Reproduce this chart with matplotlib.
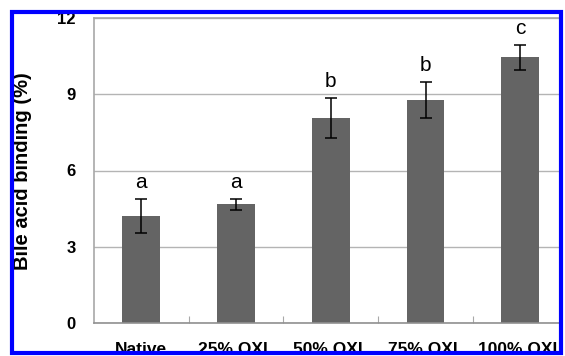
import matplotlib
matplotlib.use("Agg")
import matplotlib.pyplot as plt
from matplotlib.patches import Rectangle

# values
categories = ["Native", "25% OXL", "50% OXL", "75% OXL", "100% OXL"]
binding = [4.22, 4.67, 8.08, 8.77, 10.46]
errors = [0.67, 0.22, 0.79, 0.71, 0.49]
letters = ["a", "a", "b", "b", "c"]
yticks = [0, 3, 6, 9, 12]

plt.rcParams["font.family"] = ["Liberation Sans", "DejaVu Sans"]

fig = plt.figure(figsize=(5.65, 3.56), dpi=100)
ax = fig.add_axes([94 / 565, 33 / 356, 467 / 565, 305 / 356])

x = list(range(len(categories)))
ax.bar(x, binding, width=0.4, color="#646464", zorder=2)
ax.errorbar(x, binding, yerr=errors, fmt="none", ecolor="black",
            elinewidth=1.1, capsize=4.3, capthick=1.1, zorder=3)
for xi, v, e, lab in zip(x, binding, errors, letters):
    ax.text(xi, v + e + 0.42, lab, ha="center", va="baseline", fontsize=15)

ax.set_xlim(-0.5, 4.43)
ax.set_ylim(0, 12)
ax.set_yticks(yticks)
ax.set_yticklabels([str(t) for t in yticks], fontsize=12, fontweight="bold")
ax.set_xticks(x)
ax.set_xticklabels(categories, fontsize=12.5, fontweight="bold")
ax.set_xticks([i + 0.5 for i in x[:-1]], minor=True)
ax.tick_params(axis="y", length=0, pad=13)
ax.tick_params(axis="x", which="major", length=0, pad=14)
ax.tick_params(axis="x", which="minor", direction="in", length=5,
               color="#a8a8a8", width=0.8)
ax.yaxis.grid(True, color="#b4b4b4", linewidth=1.0, zorder=0)
ax.set_axisbelow(True)
for side in ["top", "left", "right"]:
    ax.spines[side].set_color("#a8a8a8")
    ax.spines[side].set_linewidth(1.2)
ax.spines["bottom"].set_color("#909090")
ax.spines["bottom"].set_linewidth(1.2)

fig.text(23 / 565, 0.52, "Bile acid binding (%)", rotation=90, ha="center",
         va="center", fontsize=14.5, fontweight="bold")

# white surround and blue frame of the cropped figure
W, H = 565, 356
for (x0, y0, w, h) in [(0, 0, W, 2), (0, H - 10, W, 10), (0, 0, 10, H), (W - 2, 0, 2, H)]:
    fig.add_artist(Rectangle((x0 / W, y0 / H), w / W, h / H, transform=fig.transFigure,
                             facecolor="white", edgecolor="none", zorder=9))
fig.add_artist(Rectangle((12 / W, 3 / H), 549 / W, 341 / H, transform=fig.transFigure,
                         facecolor="none", edgecolor="#0000ff", linewidth=3, zorder=10))

fig.savefig("out.png", dpi=100)
